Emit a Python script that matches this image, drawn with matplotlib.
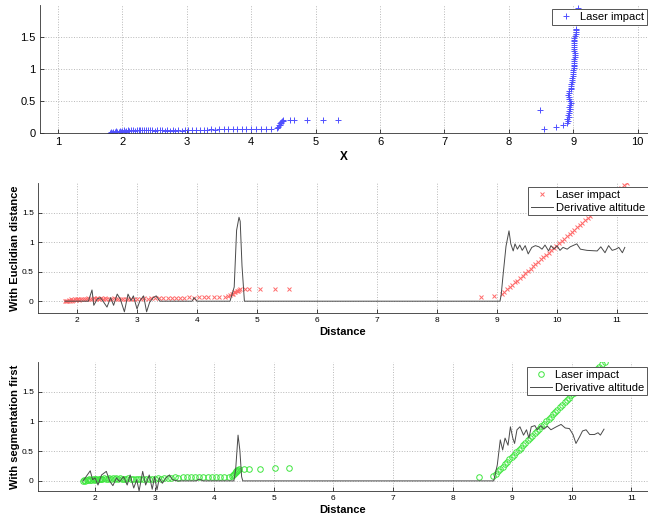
import numpy as np
import matplotlib
matplotlib.use('Agg')
import matplotlib.pyplot as plt

plt.rcParams['font.family'] = ['Liberation Sans', 'DejaVu Sans']

# ---- shared low-altitude cluster (first obstacle) ----
y_low = [0.00, 0.01, 0.00, 0.02, 0.01, 0.03, 0.01, 0.02, 0.03, 0.02,
         0.03, 0.04, 0.02, 0.03, 0.04, 0.03, 0.04, 0.05, 0.03, 0.04,
         0.05, 0.04, 0.05, 0.04, 0.05, 0.04, 0.05, 0.04, 0.03, 0.04,
         0.05, 0.04, 0.03, 0.04, 0.03, 0.04, 0.03, 0.04, 0.03, 0.04,
         0.04, 0.05, 0.04, 0.05, 0.05, 0.05, 0.06, 0.05, 0.06, 0.06,
         0.06, 0.06, 0.07, 0.06, 0.07, 0.07, 0.07, 0.07, 0.07, 0.07]
y_step = [0.08, 0.10, 0.12, 0.13, 0.15, 0.16, 0.17, 0.18, 0.19, 0.20]
y_tail = [0.20, 0.20, 0.20, 0.21, 0.21]

# ---- panel 1 : X ----
x_low_top = [1.80, 1.82, 1.84, 1.86, 1.88, 1.90, 1.92, 1.94, 1.96, 1.98,
             2.00, 2.02, 2.04, 2.06, 2.08, 2.10, 2.13, 2.16, 2.19, 2.22,
             2.25, 2.28, 2.31, 2.34, 2.37, 2.40, 2.43, 2.46, 2.50, 2.54,
             2.58, 2.62, 2.66, 2.70, 2.74, 2.78, 2.82, 2.87, 2.92, 2.97,
             3.02, 3.08, 3.14, 3.20, 3.26, 3.32, 3.38, 3.44, 3.50, 3.57,
             3.64, 3.71, 3.78, 3.85, 3.92, 3.99, 4.07, 4.15, 4.23, 4.31]
x_step_top = [4.40, 4.42, 4.43, 4.44, 4.45, 4.46, 4.47, 4.48, 4.49, 4.50]
x_tail_top = [4.60, 4.67, 4.87, 5.11, 5.35]
x_far_top = [8.49, 8.55, 8.74, 8.84, 8.90, 8.92, 8.91, 8.93, 8.92, 8.94,
             8.93, 8.95, 8.94, 8.95, 8.96, 8.95, 8.94, 8.93, 8.92, 8.93,
             8.94, 8.96, 8.96, 8.97, 8.97, 8.98, 8.98, 8.98, 8.99, 8.99,
             9.00, 9.00, 9.01, 9.01, 9.01, 9.02, 9.02, 9.02, 9.03, 9.03,
             9.03, 9.02, 9.02, 9.02, 9.01, 9.01, 9.01, 9.02, 9.02, 9.03,
             9.04, 9.04, 9.05, 9.04, 9.08]
y_far_top = [0.36, 0.07, 0.09, 0.13, 0.15, 0.18, 0.22, 0.25, 0.28, 0.31,
             0.34, 0.37, 0.40, 0.44, 0.47, 0.50, 0.53, 0.56, 0.59, 0.62,
             0.65, 0.68, 0.71, 0.74, 0.77, 0.80, 0.83, 0.86, 0.89, 0.92,
             0.95, 0.98, 1.01, 1.04, 1.07, 1.10, 1.13, 1.16, 1.19, 1.22,
             1.25, 1.28, 1.31, 1.34, 1.37, 1.40, 1.43, 1.46, 1.49, 1.52,
             1.55, 1.58, 1.61, 1.63, 1.95]

# ---- panel 2 : Euclidian distance ----
x_low_mid = [1.80, 1.82, 1.84, 1.86, 1.88, 1.90, 1.92, 1.94, 1.96, 1.98,
             2.00, 2.02, 2.04, 2.07, 2.10, 2.13, 2.16, 2.19, 2.22, 2.25,
             2.28, 2.31, 2.34, 2.37, 2.40, 2.43, 2.46, 2.49, 2.53, 2.57,
             2.61, 2.65, 2.69, 2.73, 2.77, 2.81, 2.85, 2.90, 2.95, 3.00,
             3.06, 3.12, 3.18, 3.24, 3.30, 3.37, 3.44, 3.51, 3.58, 3.65,
             3.72, 3.79, 3.87, 3.95, 4.03, 4.11, 4.19, 4.28, 4.37, 4.46]
x_step_mid = [4.52, 4.55, 4.58, 4.60, 4.62, 4.64, 4.66, 4.68, 4.70, 4.72]
x_tail_mid = [4.80, 4.87, 5.05, 5.30, 5.53]
x_far_mid = [8.74, 8.95,
             9.08, 9.12, 9.17, 9.21, 9.25, 9.30, 9.34, 9.38, 9.43, 9.47,
             9.51, 9.56, 9.60, 9.64, 9.69, 9.73, 9.77, 9.82, 9.86, 9.90,
             9.95, 9.99, 10.03, 10.08, 10.12, 10.16, 10.21, 10.25, 10.29, 10.34,
             10.38, 10.42, 10.47, 10.51, 10.55, 10.60, 10.64, 10.68, 10.73, 10.77,
             10.81, 10.86, 10.90, 10.94, 10.99, 11.03, 11.07, 11.12, 11.16]
y_far_mid = [0.07, 0.09,
             0.12, 0.16, 0.20, 0.24, 0.28, 0.32, 0.35, 0.39, 0.43, 0.47,
             0.51, 0.55, 0.59, 0.63, 0.67, 0.71, 0.74, 0.78, 0.82, 0.86,
             0.90, 0.94, 0.98, 1.02, 1.06, 1.10, 1.14, 1.17, 1.21, 1.25,
             1.29, 1.33, 1.37, 1.41, 1.45, 1.49, 1.53, 1.57, 1.60, 1.64,
             1.68, 1.72, 1.76, 1.80, 1.84, 1.88, 1.92, 1.96, 2.00]
deriv_x_mid = [1.80, 2.19, 2.25, 2.28, 2.34, 2.39, 2.44, 2.50, 2.56, 2.61,
               2.67, 2.72, 2.79, 2.85, 2.90, 2.94, 3.00, 3.05, 3.11, 3.16,
               3.21, 3.27, 3.32, 3.38, 3.92, 3.95, 4.00, 4.55, 4.58, 4.62,
               4.66, 4.70, 4.72, 4.75, 4.79, 9.05, 9.07, 9.10, 9.15, 9.20,
               9.23, 9.27, 9.30, 9.34, 9.38, 9.42, 9.47, 9.52, 9.58, 9.64,
               9.70, 9.75, 9.80, 9.86, 9.90, 9.95, 10.00, 10.05, 10.10, 10.17,
               10.22, 10.33, 10.39, 10.50, 10.67, 10.73, 10.80, 10.86, 10.92, 10.98,
               11.03, 11.09, 11.13]
deriv_y_mid = [0.00, 0.00, 0.19, -0.07, 0.04, 0.06, -0.01, -0.10, 0.06, -0.07,
               0.12, 0.04, -0.18, 0.12, 0.01, 0.09, -0.13, 0.01, 0.09, -0.18,
               -0.02, 0.06, 0.09, 0.00, 0.00, 0.06, 0.00, 0.00, 0.10, 0.24,
               1.20, 1.42, 1.35, 0.60, 0.00, 0.00, 0.11, 0.43, 0.93, 1.19,
               0.97, 0.85, 0.97, 0.88, 0.95, 0.86, 0.94, 0.80, 0.91, 0.94,
               0.92, 0.88, 0.95, 0.85, 0.94, 0.88, 0.94, 0.86, 0.91, 0.88,
               0.92, 0.97, 0.88, 0.86, 0.85, 0.92, 0.82, 0.94, 0.86, 0.88,
               0.91, 0.82, 0.91]

# ---- panel 3 : segmentation first ----
x_low_bot = [1.80, 1.82, 1.84, 1.86, 1.88, 1.90, 1.92, 1.94, 1.96, 1.98,
             2.00, 2.02, 2.04, 2.06, 2.08, 2.10, 2.12, 2.15, 2.18, 2.21,
             2.24, 2.27, 2.30, 2.33, 2.36, 2.39, 2.42, 2.45, 2.48, 2.52,
             2.56, 2.60, 2.64, 2.68, 2.72, 2.76, 2.80, 2.85, 2.90, 2.95,
             3.00, 3.05, 3.10, 3.16, 3.22, 3.28, 3.34, 3.40, 3.47, 3.54,
             3.61, 3.68, 3.75, 3.82, 3.89, 3.96, 4.03, 4.10, 4.17, 4.24]
x_step_bot = [4.30, 4.32, 4.34, 4.35, 4.36, 4.37, 4.38, 4.39, 4.40, 4.42]
x_tail_bot = [4.50, 4.58, 4.77, 5.02, 5.26]
x_far_bot = [8.45,
             8.68, 8.72, 8.76, 8.80, 8.84, 8.88, 8.91, 8.95, 8.99, 9.03,
             9.07, 9.11, 9.15, 9.18, 9.22, 9.26, 9.30, 9.34, 9.38, 9.42,
             9.45, 9.49, 9.53, 9.57, 9.61, 9.65, 9.69, 9.72, 9.76, 9.80,
             9.84, 9.88, 9.92, 9.96, 9.99, 10.03, 10.07, 10.11, 10.15, 10.19,
             10.23, 10.26, 10.30, 10.34, 10.38, 10.42, 10.46, 10.50, 10.55]
y_far_bot = [0.06,
             0.08, 0.12, 0.16, 0.20, 0.24, 0.28, 0.32, 0.36, 0.40, 0.44,
             0.48, 0.52, 0.56, 0.60, 0.64, 0.68, 0.72, 0.76, 0.80, 0.84,
             0.88, 0.92, 0.96, 1.00, 1.04, 1.08, 1.12, 1.16, 1.20, 1.24,
             1.28, 1.32, 1.36, 1.40, 1.44, 1.48, 1.52, 1.56, 1.60, 1.64,
             1.68, 1.72, 1.76, 1.80, 1.84, 1.88, 1.92, 1.96, 2.00]
deriv_x_bot = [1.80, 1.92, 1.96, 2.00, 2.05, 2.11, 2.19, 2.25, 2.30, 2.36,
               2.41, 2.48, 2.54, 2.59, 2.65, 2.70, 2.74, 2.80, 2.85, 2.91,
               2.96, 3.00, 3.04, 3.08, 3.13, 3.19, 3.25, 3.30, 3.38, 3.70,
               3.75, 3.81, 4.33, 4.36, 4.40, 4.43, 4.46, 4.48, 8.69, 8.75,
               8.80, 8.84, 8.88, 8.93, 8.97, 9.01, 9.04, 9.08, 9.13, 9.19,
               9.24, 9.28, 9.32, 9.38, 9.42, 9.48, 9.53, 9.59, 9.65, 9.74,
               9.82, 9.89, 9.96, 10.02, 10.07, 10.13, 10.18, 10.24, 10.30, 10.38,
               10.44, 10.48, 10.54]
deriv_y_bot = [0.00, 0.17, 0.02, 0.05, -0.07, 0.10, 0.16, -0.01, -0.08, 0.05,
               -0.01, 0.07, -0.07, 0.10, -0.12, 0.02, -0.17, 0.16, -0.07, 0.10,
               -0.14, 0.07, -0.15, 0.05, -0.04, 0.05, 0.10, 0.02, 0.00, 0.00,
               0.03, 0.00, 0.00, 0.19, 0.77, 0.52, 0.07, 0.00, 0.00, 0.27,
               0.69, 0.52, 0.72, 0.60, 0.91, 0.72, 0.63, 0.86, 0.91, 0.77,
               0.86, 0.72, 0.91, 0.93, 0.86, 0.93, 0.87, 0.92, 0.86, 0.91,
               0.95, 0.89, 0.88, 0.78, 0.63, 0.74, 0.84, 0.86, 0.78, 0.78,
               0.81, 0.77, 0.87]

W, H = 648, 519
fig = plt.figure(figsize=(W / 100, H / 100), dpi=100)


def px_axes(left, top, bottom, right=W):
    # axes rectangle given in pixel coordinates of the image
    return fig.add_axes([left / W, 1 - bottom / H, (right - left) / W, (bottom - top) / H])


def style(ax, fs):
    ax.grid(True, linestyle=':', color='#b8b8b8', linewidth=0.7)
    ax.set_axisbelow(True)
    ax.spines['top'].set_visible(False)
    ax.spines['right'].set_visible(False)
    for s in ('left', 'bottom'):
        ax.spines[s].set_linewidth(0.6)
        ax.spines[s].set_color('#333333')
    ax.tick_params(direction='in', length=3, width=0.5, labelsize=fs, pad=3)


def legend(ax, left, top):
    lg = ax.legend(loc='upper left', bbox_to_anchor=(left / W, 1 - top / H),
                   bbox_transform=fig.transFigure, fontsize=8, fancybox=False,
                   framealpha=1, edgecolor='#555555', borderaxespad=0,
                   borderpad=0.25, handlelength=2.0, handletextpad=0.3,
                   labelspacing=0.25)
    lg.get_frame().set_linewidth(0.7)


blue = '#5050ff'
red = '#ff6a6a'
green = '#3fe63f'
grey = '#4a4a4a'

# panel 1
ax1 = px_axes(40, 5, 133)
ax1.plot(x_low_top + x_step_top + x_tail_top + x_far_top,
         y_low + y_step + y_tail + y_far_top,
         '+', color=blue, ms=5, mew=0.7, label='Laser impact')
ax1.set_xlim(1 - 18 / 64.4, 1 + (W - 58) / 64.4)
ax1.set_ylim(0, 2.0)
ax1.set_xticks(range(1, 11))
ax1.set_yticks([0, 0.5, 1, 1.5])
ax1.set_yticklabels(['0', '0.5', '1', '1.5'])
style(ax1, 8)
ax1.set_xlabel('X', fontsize=8.5, fontweight='bold', labelpad=3)
legend(ax1, 552, 9)

# panel 2
ax2 = px_axes(38, 183, 313)
ax2.plot(x_low_mid + x_step_mid + x_tail_mid + x_far_mid,
         y_low + y_step + y_tail + y_far_mid,
         'x', color=red, ms=3.2, mew=0.7, label='Laser impact')
ax2.plot(deriv_x_mid, deriv_y_mid, '-', color=grey, lw=0.7, label='Derivative altitude')
ax2.set_xlim(2 - 39 / 60.0, 2 + (W - 77) / 60.0)
ax2.set_ylim(-0.2, 2.0)
ax2.set_xticks(range(2, 12))
ax2.set_yticks([0, 0.5, 1, 1.5])
ax2.set_yticklabels(['0', '0.5', '1', '1.5'])
style(ax2, 6)
ax2.set_xlabel('Distance', fontsize=8, fontweight='bold', labelpad=2)
ax2.set_ylabel('With Euclidian distance', fontsize=8, fontweight='bold', labelpad=1.5)
legend(ax2, 528, 187)

# panel 3
ax3 = px_axes(38, 362, 491)
ax3.plot(x_low_bot + x_step_bot + x_tail_bot + x_far_bot,
         y_low + y_step + y_tail + y_far_bot,
         'o', color=green, mfc='none', ms=4, mew=0.7, label='Laser impact')
ax3.plot(deriv_x_bot, deriv_y_bot, '-', color=grey, lw=0.7, label='Derivative altitude')
ax3.set_xlim(2 - 57 / 59.6, 2 + (W - 95) / 59.6)
ax3.set_ylim(-0.17, 2.0)
ax3.set_xticks(range(2, 12))
ax3.set_yticks([0, 0.5, 1, 1.5])
ax3.set_yticklabels(['0', '0.5', '1', '1.5'])
style(ax3, 6)
ax3.set_xlabel('Distance', fontsize=8, fontweight='bold', labelpad=2)
ax3.set_ylabel('With segmentation first', fontsize=8, fontweight='bold', labelpad=1.5)
legend(ax3, 527, 367)

fig.savefig('out.png', dpi=100)
